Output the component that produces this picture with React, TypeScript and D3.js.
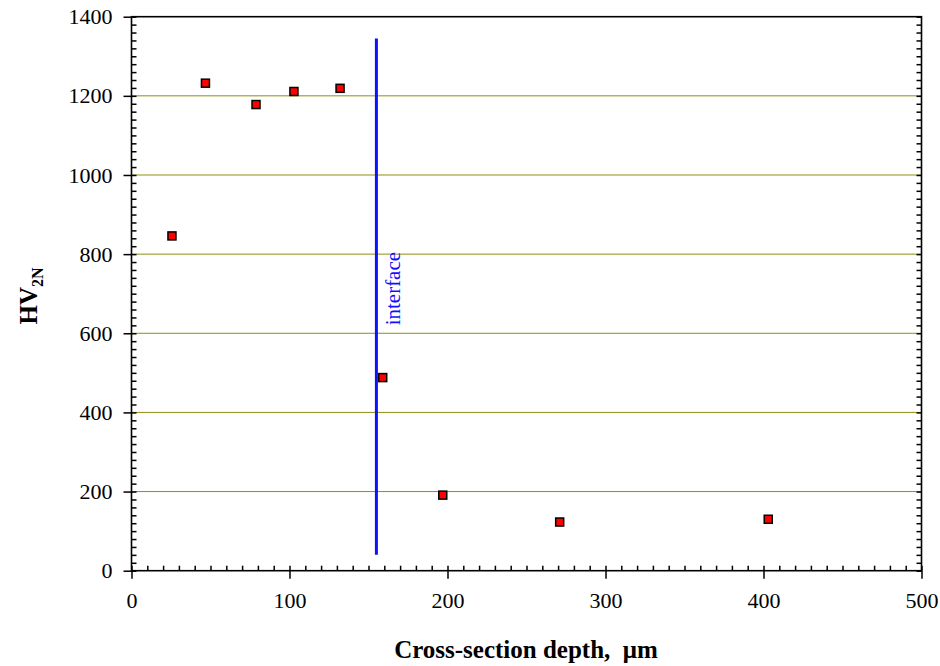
import React, { useEffect, useRef } from 'react';
import * as d3 from 'd3';

// hardness profile across the section
const depth = [25.6, 46.8, 78.8, 102.8, 132, 159, 197, 271, 403];
const hardness = [846, 1232, 1178, 1211, 1219, 488, 191, 123, 130];

const interfaceDepth = 155;
const interfaceSpan = [40, 1345];

const xTicks = [0, 100, 200, 300, 400, 500];
const yTicks = [0, 200, 400, 600, 800, 1000, 1200, 1400];
const gridValues = [200, 400, 600, 800, 1000, 1200];

const App = () => {
  const svgRef = useRef<SVGSVGElement>(null);

  useEffect(() => {
    const width = 940;
    const height = 666;
    const left = 131.5, right = 921.5, top = 16.7, bottom = 570.7;
    const svg = d3.select(svgRef.current).attr('width', width).attr('height', height);
    svg.selectAll('*').remove();

    const x = d3.scaleLinear().domain([0, 500]).range([left, right]);
    const y = d3.scaleLinear().domain([0, 1400]).range([bottom, top]);
    const font = '"Liberation Serif", "Times New Roman", serif';

    // grid
    svg.append('g')
      .selectAll('line')
      .data(gridValues)
      .enter()
      .append('line')
      .attr('x1', left)
      .attr('x2', right)
      .attr('y1', d => y(d))
      .attr('y2', d => y(d))
      .attr('stroke', '#8f8f10')
      .attr('stroke-width', 1);

    // minor ticks inside, left/right/bottom
    const minorY = d3.range(0, 1401, 20);
    const minorX = d3.range(0, 501, 10);
    svg.append('g')
      .attr('transform', `translate(${left},0)`)
      .call(d3.axisLeft(y).tickValues(minorY).tickSize(-5).tickSizeOuter(0).tickFormat(() => ''));
    svg.append('g')
      .attr('transform', `translate(${right},0)`)
      .call(d3.axisRight(y).tickValues(minorY).tickSize(-5).tickSizeOuter(0).tickFormat(() => ''));
    svg.append('g')
      .attr('transform', `translate(0,${bottom})`)
      .call(d3.axisBottom(x).tickValues(minorX).tickSize(-5).tickSizeOuter(0).tickFormat(() => ''));

    // major ticks outside with labels
    const yAxis = svg.append('g')
      .attr('transform', `translate(${left},0)`)
      .call(d3.axisLeft(y).tickValues(yTicks).tickSize(8).tickSizeOuter(0).tickPadding(11).tickFormat(d3.format('d')));
    const xAxis = svg.append('g')
      .attr('transform', `translate(0,${bottom})`)
      .call(d3.axisBottom(x).tickValues(xTicks).tickSize(8).tickSizeOuter(0).tickPadding(14).tickFormat(d3.format('d')));

    [yAxis, xAxis].forEach(g => {
      g.attr('font-family', null).attr('font-size', null);
      g.selectAll('text')
        .style('font-family', font)
        .style('font-size', '22px')
        .attr('fill', '#000');
    });
    svg.selectAll('.domain').remove();
    svg.selectAll('.tick line').attr('stroke', '#000').attr('stroke-width', 1.5);

    // frame
    svg.append('rect')
      .attr('x', left)
      .attr('y', top)
      .attr('width', right - left)
      .attr('height', bottom - top)
      .attr('fill', 'none')
      .attr('stroke', '#000')
      .attr('stroke-width', 1.6);

    // interface line
    svg.append('line')
      .attr('x1', x(interfaceDepth))
      .attr('x2', x(interfaceDepth))
      .attr('y1', y(interfaceSpan[0]))
      .attr('y2', y(interfaceSpan[1]))
      .attr('stroke', '#1010ff')
      .attr('stroke-width', 3);

    svg.append('text')
      .attr('transform', `translate(${x(interfaceDepth) + 24},${y(620)}) rotate(-90)`)
      .style('font-family', font)
      .style('font-size', '21px')
      .attr('fill', '#1010ff')
      .text('interface');

    // data points
    const size = 8;
    svg.append('g')
      .selectAll('rect')
      .data(depth.map((d, i) => [d, hardness[i]]))
      .enter()
      .append('rect')
      .attr('x', d => x(d[0]) - size / 2)
      .attr('y', d => y(d[1]) - size / 2)
      .attr('width', size)
      .attr('height', size)
      .attr('fill', '#ff0000')
      .attr('stroke', '#000')
      .attr('stroke-width', 1.5);

    // axis titles
    svg.append('text')
      .attr('x', 526)
      .attr('y', 658)
      .attr('text-anchor', 'middle')
      .style('font-family', font)
      .style('font-weight', 'bold')
      .style('font-size', '25px')
      .style('white-space', 'pre')
      .text('Cross-section depth,  \u03bcm');

    const yTitle = svg.append('text')
      .attr('transform', `translate(37,${296}) rotate(-90)`)
      .attr('text-anchor', 'middle')
      .style('font-family', font)
      .style('font-weight', 'bold')
      .style('font-size', '25px');
    yTitle.append('tspan').text('HV');
    yTitle.append('tspan').style('font-size', '16px').attr('dy', 6).text('2N');
  }, []);

  return (
    <div style={{ position: 'absolute', left: 0, top: 0 }}>
      <svg ref={svgRef}></svg>
    </div>
  );
};

export default App;
